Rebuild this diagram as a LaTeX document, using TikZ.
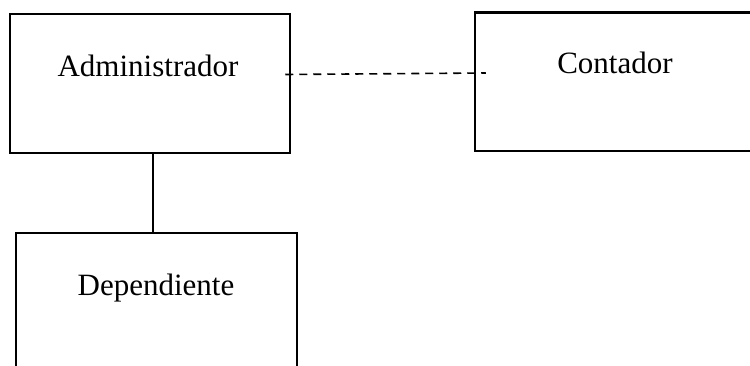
\documentclass[tikz,border=0pt]{standalone}
\usepackage{fontspec}
\setmainfont{Liberation Serif}
\begin{document}
\begin{tikzpicture}[x=1pt,y=-1pt,
  entity/.style={draw=black, line width=2.5pt, rectangle, inner sep=0pt},
  caption/.style={anchor=base, inner sep=0pt, font=\fontsize{31}{37}\selectfont},
  dep/.style={draw=black, line width=1.6pt, dash pattern=on 8pt off 6pt},
  link/.style={draw=black, line width=1.3pt}]
  \useasboundingbox (0,0) rectangle (750,366);
  \clip (0,0) rectangle (750,366);
  % boxes
  \node[entity, minimum width=280pt, minimum height=139pt] (adm) at (150,83.5) {};
  \node[entity, minimum width=290pt, minimum height=138.5pt] (cont) at (620,81.75) {};
  \node[entity, minimum width=281pt, minimum height=160pt] (depb) at (156.5,313) {};
  % names
  \node[caption] (admt) at (148,77) {Administrador};
  \node[caption] (contt) at (615,74) {Contador};
  \node[caption] (dept) at (156,295) {Dependiente};
  % connectors
  \coordinate (dA) at ([xshift=-6pt,yshift=9pt]adm.east);
  \coordinate (dC) at ([xshift=12pt,yshift=8.75pt]cont.west);
  \draw[dep] (dA) -- (dC);
  \draw[link] (adm.south -| 153,0) -- (depb.north -| 153,0);
\end{tikzpicture}
\end{document}
